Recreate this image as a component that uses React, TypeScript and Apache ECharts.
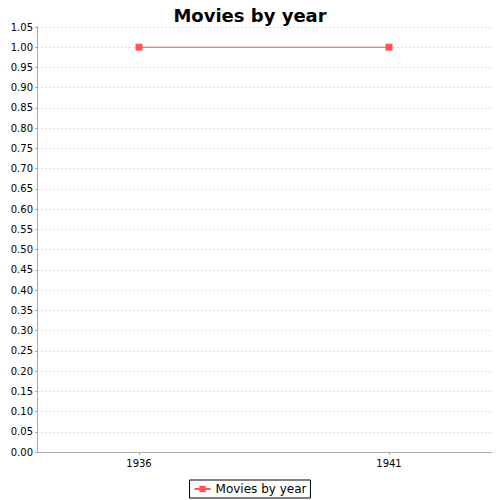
import React, { useEffect, useRef } from 'react';
import * as echarts from 'echarts';

const categories = ['1936', '1941'];
const movieCounts = [1, 1];
const yTicks = { min: 0, max: 1.05, interval: 0.05 };

const App = () => {
  const chartRef = useRef<HTMLDivElement>(null);

  useEffect(() => {
    if (!chartRef.current) return;
    const chart = echarts.init(chartRef.current, undefined, { renderer: 'svg' });
    const font = 'DejaVu Sans';

    chart.setOption({
      animation: false,
      title: {
        text: 'Movies by year',
        left: 'center',
        top: 1,
        textStyle: { fontFamily: font, fontSize: 18, fontWeight: 'bold', color: '#000' },
      },
      legend: {
        bottom: 2,
        left: 'center',
        data: ['Movies by year'],
        borderColor: '#000',
        borderWidth: 1,
        borderRadius: 0,
        padding: [3, 4, 3, 4],
        itemWidth: 16,
        itemHeight: 8,
        itemGap: 6,
        textStyle: { fontFamily: font, fontSize: 12, color: '#000' },
      },
      grid: { left: 37, right: 8, top: 27, bottom: 48, containLabel: false },
      xAxis: {
        type: 'value',
        min: -0.408,
        max: 1.412,
        axisLine: { show: true, onZero: false, lineStyle: { color: '#aaa' } },
        axisTick: { show: true, customValues: [0, 1], length: 3, lineStyle: { color: '#aaa' } },
        axisLabel: {
          customValues: [0, 1],
          formatter: (v: number) => categories[Math.round(v)] ?? '',
          fontFamily: font,
          fontSize: 10,
          color: '#000',
          margin: 6,
        },
        splitLine: { show: false },
      },
      yAxis: {
        type: 'value',
        min: yTicks.min,
        max: yTicks.max,
        interval: yTicks.interval,
        axisLine: { show: true, onZero: false, lineStyle: { color: '#aaa' } },
        axisTick: { show: true, length: 2, lineStyle: { color: '#aaa' } },
        axisLabel: {
          formatter: (v: number) => v.toFixed(2),
          fontFamily: font,
          fontSize: 10,
          color: '#000',
          margin: 4,
        },
        splitLine: { show: true, lineStyle: { type: [2, 2], color: '#ddd' } },
      },
      series: [
        {
          name: 'Movies by year',
          type: 'line',
          data: movieCounts.map((v, i) => [i, v]),
          symbol: 'rect',
          symbolSize: 7,
          lineStyle: { color: '#ff5555', width: 1 },
          itemStyle: { color: '#ff5555' },
        },
      ],
    });

    return () => chart.dispose();
  }, []);

  return (
    <div
      ref={chartRef}
      style={{ position: 'fixed', left: 0, top: 0, width: 500, height: 500, background: '#fff' }}
    />
  );
};

export default App;
